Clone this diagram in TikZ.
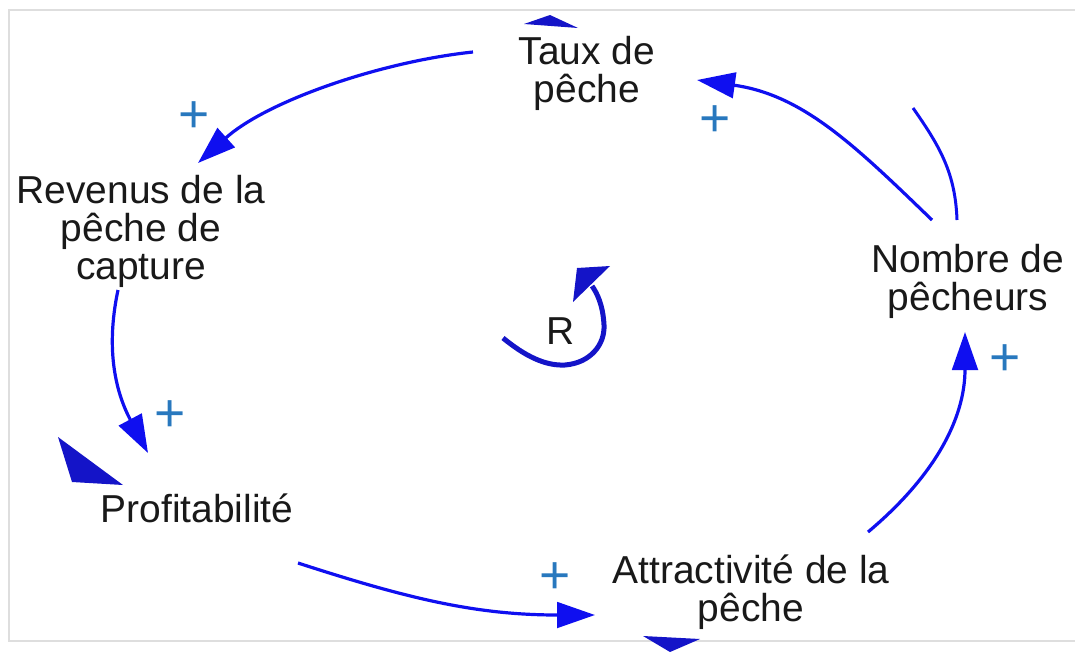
\documentclass[tikz,border=0pt]{standalone}
\usepackage{fontspec}
\setmainfont{Liberation Sans}
\usetikzlibrary{arrows.meta}
\definecolor{linkblue}{RGB}{15,15,240}
\definecolor{loopblue}{RGB}{20,20,200}
\definecolor{signblue}{RGB}{40,120,190}
\definecolor{framegray}{RGB}{222,222,222}
\tikzset{
  var/.style={align=center,inner sep=0pt,text=black!90,font=\fontsize{27.7}{27}\selectfont},
  link/.style={linkblue,line width=0.08cm,-{Triangle[length=0.95cm,width=0.64cm]}},
  plus/.style={signblue,inner sep=0pt,font=\fontsize{38}{38}\selectfont}
}
\begin{document}
\begin{tikzpicture}[x=0.025cm,y=0.025cm]
\useasboundingbox (0,0) rectangle (1075,-651);
\draw[framegray,line width=0.05cm] (1075,-10) -- (9,-10) -- (9,-641) -- (1075,-641);
\node[var] (taux) at (587,-73) {Taux de\\pêche};
\node[var] (revenus) at (141,-231) {Revenus de la\\pêche de\\capture};
\node[var] (profit) at (197,-508) {Profitabilité};
\node[var] (attrac) at (751,-592) {Attractivité de la\\pêche};
\node[var] (nombre) at (968,-281) {Nombre de\\pêcheurs};
\node[var] (loopR) at (561,-331) {R};
\coordinate (stray) at (913,-108);
\draw[link] ([shift={(-114,21)}]taux.center) to[out=186,in=42,looseness=0.8] ([shift={(57,68)}]revenus.center);
\draw[link] ([shift={(-23,-59)}]revenus.center) to[out=258,in=118] ([shift={(-49,55)}]profit.center);
\draw[link] ([shift={(101,-55)}]profit.center) to[out=-18,in=180] ([shift={(-156,-23)}]attrac.center);
\draw[link] ([shift={(117,60)}]attrac.center) to[out=40,in=270] ([shift={(-3,-51)}]nombre.center);
\draw[link] ([shift={(-36,61)}]nombre.center) to[out=136,in=-8] ([shift={(110,-7)}]taux.center);
\draw[linkblue,line width=0.075cm] ([shift={(-11,61)}]nombre.center) to[out=92,in=-55] (stray);
\foreach \n/\x/\y in {1/194/117,2/170/416,3/555/578,4/1005/360,5/715/121}
  \node[plus] (p\n) at (\x,-\y) {+};
\draw[loopblue,line width=0.125cm] (503,-338) .. controls (525,-356) and (545,-366) .. (565,-365)
  .. controls (590,-363) and (605,-345) .. (604,-325) .. controls (603,-305) and (597,-293) .. (592,-286);
\fill[loopblue] (577,-268) -- (610,-266) -- (573,-302) -- cycle;
\fill[loopblue] (524,-24) -- (550,-15) -- (578,-28) -- cycle;
\fill[loopblue] (643,-636) -- (700,-639) -- (670,-652) -- cycle;
\fill[loopblue] (58,-437) -- (72,-482) -- (123,-485) -- cycle;
\end{tikzpicture}
\end{document}
